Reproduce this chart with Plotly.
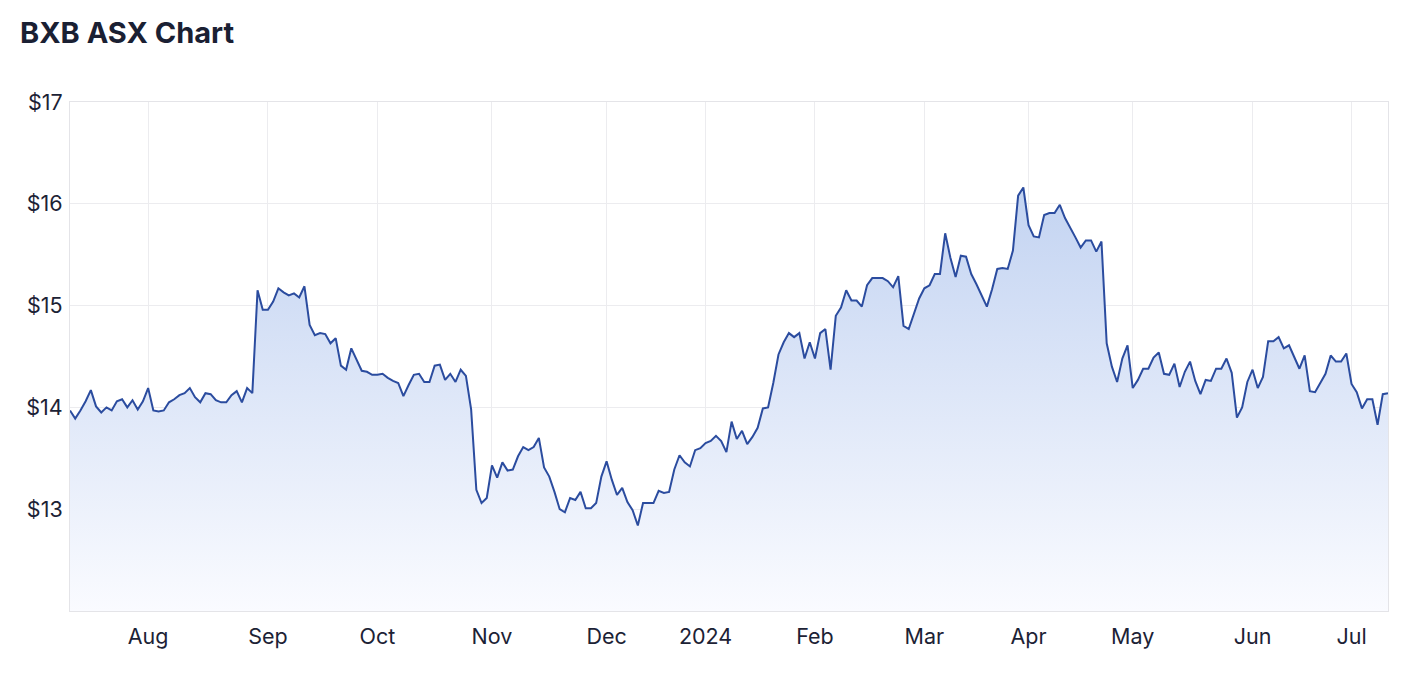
import pandas as pd
import plotly.graph_objects as go

# ASX closing prices, one per trading day (11 Jul 2023 - 10 Jul 2024)
start_date = "2023-07-11"
end_date = "2024-07-10"
asx_holidays = ["2023-12-25", "2023-12-26", "2024-01-01", "2024-01-26",
                "2024-03-29", "2024-04-01", "2024-04-25", "2024-06-10"]

prices = [
    13.97, 13.89, 13.97, 14.06, 14.17, 14.01, 13.95, 14.00, 13.97, 14.06,
    14.08, 14.00, 14.07, 13.98, 14.06, 14.19, 13.97, 13.96, 13.97, 14.05,
    14.08, 14.12, 14.14, 14.19, 14.10, 14.05, 14.14, 14.13, 14.07, 14.05,
    14.05, 14.12, 14.16, 14.05, 14.19, 14.14, 15.15, 14.96, 14.96, 15.04,
    15.17, 15.13, 15.10, 15.12, 15.08, 15.19, 14.81, 14.71, 14.73, 14.72,
    14.63, 14.68, 14.41, 14.37, 14.58, 14.47, 14.36, 14.35, 14.32, 14.32,
    14.33, 14.29, 14.26, 14.24, 14.11, 14.22, 14.32, 14.33, 14.25, 14.25,
    14.41, 14.42, 14.27, 14.33, 14.25, 14.37, 14.31, 13.98, 13.19, 13.06,
    13.11, 13.43, 13.31, 13.46, 13.38, 13.39, 13.52, 13.61, 13.58, 13.61,
    13.70, 13.41, 13.32, 13.17, 13.00, 12.97, 13.11, 13.09, 13.17, 13.01,
    13.01, 13.06, 13.32, 13.47, 13.29, 13.14, 13.21, 13.07, 12.99, 12.84,
    13.06, 13.06, 13.06, 13.18, 13.16, 13.17, 13.39, 13.53, 13.46, 13.42,
    13.58, 13.60, 13.65, 13.67, 13.72, 13.67, 13.56, 13.86, 13.69, 13.77,
    13.64, 13.71, 13.80, 13.99, 14.00, 14.24, 14.52, 14.64, 14.73, 14.69,
    14.73, 14.48, 14.64, 14.48, 14.73, 14.77, 14.37, 14.90, 14.98, 15.15,
    15.05, 15.05, 14.99, 15.20, 15.27, 15.27, 15.27, 15.24, 15.18, 15.29,
    14.80, 14.77, 14.91, 15.07, 15.17, 15.20, 15.31, 15.31, 15.71, 15.47,
    15.28, 15.49, 15.48, 15.31, 15.21, 15.10, 14.99, 15.16, 15.36, 15.37,
    15.36, 15.54, 16.08, 16.16, 15.79, 15.68, 15.67, 15.89, 15.91, 15.91,
    15.99, 15.86, 15.77, 15.67, 15.57, 15.64, 15.64, 15.53, 15.63, 14.63,
    14.40, 14.25, 14.48, 14.61, 14.19, 14.27, 14.38, 14.38, 14.49, 14.54,
    14.33, 14.32, 14.43, 14.20, 14.35, 14.45, 14.26, 14.13, 14.27, 14.26,
    14.38, 14.38, 14.48, 14.34, 13.90, 14.00, 14.25, 14.37, 14.19, 14.30,
    14.65, 14.65, 14.69, 14.58, 14.61, 14.50, 14.38, 14.51, 14.16, 14.15,
    14.24, 14.33, 14.51, 14.45, 14.45, 14.53, 14.23, 14.15, 13.99, 14.08,
    14.08, 13.83, 14.13, 14.14,
]

# first trading day of each month
month_ticks = ["2023-08-01", "2023-09-01", "2023-10-02", "2023-11-01", "2023-12-01",
               "2024-01-02", "2024-02-01", "2024-03-01", "2024-04-02", "2024-05-01",
               "2024-06-03", "2024-07-01"]
month_labels = ["Aug", "Sep", "Oct", "Nov", "Dec", "2024", "Feb", "Mar", "Apr",
                "May", "Jun", "Jul"]
price_ticks = [13, 14, 15, 16, 17]
price_labels = ["$13", "$14", "$15", "$16", "$17"]

dates = pd.bdate_range(start_date, end_date)
dates = dates[~dates.isin(pd.to_datetime(asx_holidays))]
dates = dates[:len(prices)]

fig = go.Figure()

fig.add_trace(go.Scatter(
    x=dates,
    y=prices,
    mode='lines',
    line=dict(color='#2b4c9f', width=2),
    fill='tozeroy',
    fillgradient=dict(
        type='vertical',
        start=12,
        stop=16.3,
        colorscale=[[0, 'rgba(250,251,255,1)'], [1, 'rgba(193,210,241,1)']]
    ),
    hoverinfo='x+y',
    showlegend=False
))

# page body has an 8px margin, so the figure is sized to fit inside it
fig.update_layout(
    width=1388,
    height=662,
    paper_bgcolor='white',
    plot_bgcolor='white',
    margin=dict(l=62, r=8, t=94, b=59),
    title=dict(
        text='<b>BXB ASX Chart</b>',
        x=12 / 1388, xanchor='left',
        y=1 - 25 / 662, yanchor='middle',
        font=dict(family='Inter', size=29, color='#1a2033')
    ),
    font=dict(family='Inter', size=21.5, color='#1c2235'),
)

fig.update_xaxes(
    range=[dates[0], dates[-1]],
    rangebreaks=[dict(bounds=['sat', 'mon']), dict(values=asx_holidays)],
    tickvals=month_ticks,
    ticktext=month_labels,
    showgrid=True,
    gridcolor='#ececef',
    showline=True,
    linecolor='#e4e4e8',
    mirror=True,
    ticks='',
    ticklabelstandoff=6,
    zeroline=False
)

fig.update_yaxes(
    range=[12, 17],
    tickvals=price_ticks,
    ticktext=price_labels,
    showgrid=True,
    gridcolor='#ececef',
    showline=True,
    linecolor='#e4e4e8',
    mirror=True,
    ticks='',
    ticklabelstandoff=2,
    zeroline=False
)

fig.write_html("out.html")
